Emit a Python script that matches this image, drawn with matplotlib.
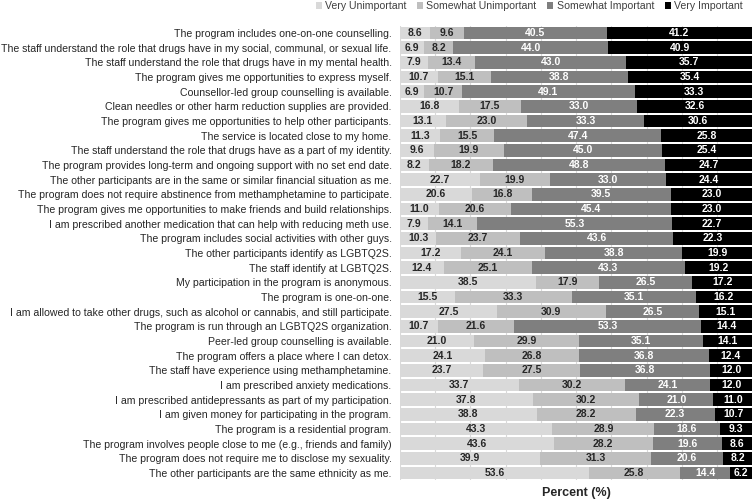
import matplotlib.pyplot as plt
import numpy as np

plt.rcParams['font.family'] = ['Liberation Sans', 'DejaVu Sans']

labels = [
	"The program includes one-on-one counselling.",
	"The staff understand the role that drugs have in my social, communal, or sexual life.",
	"The staff understand the role that drugs have in my mental health.",
	"The program gives me opportunities to express myself.",
	"Counsellor-led group counselling is available.",
	"Clean needles or other harm reduction supplies are provided.",
	"The program gives me opportunities to help other participants.",
	"The service is located close to my home.",
	"The staff understand the role that drugs have as a part of my identity.",
	"The program provides long-term and ongoing support with no set end date.",
	"The other participants are in the same or similar financial situation as me.",
	"The program does not require abstinence from methamphetamine to participate.",
	"The program gives me opportunities to make friends and build relationships.",
	"I am prescribed another medication that can help with reducing meth use.",
	"The program includes social activities with other guys.",
	"The other participants identify as LGBTQ2S.",
	"The staff identify at LGBTQ2S.",
	"My participation in the program is anonymous.",
	"The program is one-on-one.",
	"I am allowed to take other drugs, such as alcohol or cannabis, and still participate.",
	"The program is run through an LGBTQ2S organization.",
	"Peer-led group counselling is available.",
	"The program offers a place where I can detox.",
	"The staff have experience using methamphetamine.",
	"I am prescribed anxiety medications.",
	"I am prescribed antidepressants as part of my participation.",
	"I am given money for participating in the program.",
	"The program is a residential program.",
	"The program involves people close to me (e.g., friends and family)",
	"The program does not require me to disclose my sexuality.",
	"The other participants are the same ethnicity as me.",
]

very_unimportant = [8.6, 6.9, 7.9, 10.7, 6.9, 16.8, 13.1, 11.3, 9.6, 8.2, 22.7, 20.6, 11.0, 7.9, 10.3,
	17.2, 12.4, 38.5, 15.5, 27.5, 10.7, 21.0, 24.1, 23.7, 33.7, 37.8, 38.8, 43.3, 43.6, 39.9, 53.6]
somewhat_unimportant = [9.6, 8.2, 13.4, 15.1, 10.7, 17.5, 23.0, 15.5, 19.9, 18.2, 19.9, 16.8, 20.6, 14.1, 23.7,
	24.1, 25.1, 17.9, 33.3, 30.9, 21.6, 29.9, 26.8, 27.5, 30.2, 30.2, 28.2, 28.9, 28.2, 31.3, 25.8]
somewhat_important = [40.5, 44.0, 43.0, 38.8, 49.1, 33.0, 33.3, 47.4, 45.0, 48.8, 33.0, 39.5, 45.4, 55.3, 43.6,
	38.8, 43.3, 26.5, 35.1, 26.5, 53.3, 35.1, 36.8, 36.8, 24.1, 21.0, 22.3, 18.6, 19.6, 20.6, 14.4]
very_important = [41.2, 40.9, 35.7, 35.4, 33.3, 32.6, 30.6, 25.8, 25.4, 24.7, 24.4, 23.0, 23.0, 22.7, 22.3,
	19.9, 19.2, 17.2, 16.2, 15.1, 14.4, 14.1, 12.4, 12.0, 12.0, 11.0, 10.7, 9.3, 8.6, 8.2, 6.2]

series = [
	("Very Unimportant", very_unimportant, "#d9d9d9", "#262626"),
	("Somewhat Unimportant", somewhat_unimportant, "#bfbfbf", "#262626"),
	("Somewhat Important", somewhat_important, "#7f7f7f", "white"),
	("Very Important", very_important, "#000000", "white"),
]

fig = plt.figure(figsize=(7.56, 5.03), dpi=100)
ax = fig.add_axes([0.529, 0.045, 0.466, 0.904])

y = np.arange(len(labels))
left = np.zeros(len(labels))
for name, vals, color, tcolor in series:
	vals = np.array(vals)
	bars = ax.barh(y, vals, left=left, height=0.88, color=color, label=name, zorder=2)
	ax.bar_label(bars, labels=["%.1f" % v for v in vals], label_type="center",
				 color=tcolor, fontsize=7.5, fontweight="bold")
	left += vals

ax.set_xlim(0, 100)
ax.set_ylim(len(labels) - 0.5, -0.5)
ax.set_yticks(y)
ax.set_yticklabels(labels, fontsize=7.6, color="#262626")
ax.set_xticks(np.arange(0, 101, 10))
ax.set_xticklabels([])
ax.tick_params(axis="both", length=0, pad=6)
ax.xaxis.grid(True, color="#d9d9d9", linewidth=0.8, zorder=0)
for s in ax.spines.values():
	s.set_visible(False)

# x axis title placed under the bars
fig.text(0.762, 1 - 493 / 503, "Percent (%)", ha="center", va="center",
		 fontsize=9, fontweight="bold", color="#262626")

ax.legend(loc="upper right", bbox_to_anchor=(1.0, 1.075), ncol=4, frameon=False, fontsize=7.6,
		  handlelength=0.6, handleheight=0.6, handletextpad=0.3, columnspacing=1.0, labelcolor="#404040")

fig.savefig("out.png", dpi=100)
